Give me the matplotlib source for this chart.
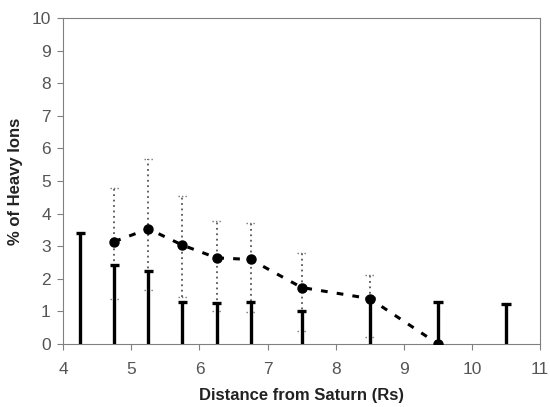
import numpy as np
import matplotlib
matplotlib.use("Agg")
import matplotlib.pyplot as plt

plt.rcParams['font.family'] = ['Liberation Sans', 'DejaVu Sans']

# upper limits (solid bars from 0)
lim_x = [4.25, 4.75, 5.25, 5.75, 6.25, 6.75, 7.5, 8.5, 9.5, 10.5]
lim_y = [3.41, 2.41, 2.24, 1.29, 1.25, 1.28, 1.02, 1.42, 1.28, 1.22]

# measured percentages with error ranges
pt_x = [4.75, 5.25, 5.75, 6.25, 6.75, 7.5, 8.5, 9.5]
pt_y = [3.14, 3.53, 3.03, 2.64, 2.59, 1.73, 1.39, 0.0]
err_hi = [4.79, 5.67, 4.54, 3.77, 3.70, 2.78, 2.12, 0.0]
err_lo = [1.37, 1.66, 1.45, 1.02, 0.97, 0.41, 0.22, 0.0]

fig, ax = plt.subplots(figsize=(5.5, 4.07), dpi=100)
fig.subplots_adjust(left=0.115, right=0.982, top=0.956, bottom=0.155)

# solid upper-limit bars
ax.vlines(lim_x, 0, lim_y, color='black', lw=2.4, zorder=3)
ax.hlines(lim_y, np.array(lim_x) - 0.07, np.array(lim_x) + 0.07, color='black', lw=2.4, zorder=3)

# dotted error bars
pt_x_arr = np.array(pt_x)
ax.vlines(pt_x, err_lo, err_hi, color='#555555', lw=1.3, linestyles=(0, (1, 2)), zorder=2)
ax.hlines(err_hi, pt_x_arr - 0.07, pt_x_arr + 0.07, color='#777777', lw=1.0, linestyles=(0, (1, 1.5)), zorder=2)
ax.hlines(err_lo, pt_x_arr - 0.07, pt_x_arr + 0.07, color='#777777', lw=1.0, linestyles=(0, (1, 1.5)), zorder=2)

ax.plot(pt_x, pt_y, color='black', lw=2.2, linestyle=(0, (2.2, 3)), marker='o', ms=6.5, zorder=4)

ax.set_xlim(4, 11)
ax.set_ylim(0, 10)
ax.set_xticks(range(4, 12))
ax.set_yticks(range(0, 11))
for s in ax.spines.values():
    s.set_color('#808080')
ax.tick_params(direction='out', color='#808080', length=4, labelsize=12.5, labelcolor='#555555')
ax.tick_params(axis='x', pad=9)
ax.tick_params(axis='y', pad=5)
ax.set_xlabel('Distance from Saturn (Rs)', fontsize=12, fontweight='bold', color='#222222', labelpad=8)
ax.set_ylabel('% of Heavy Ions', fontsize=12, fontweight='bold', color='#222222', labelpad=6)

fig.savefig('out.png', dpi=100)
